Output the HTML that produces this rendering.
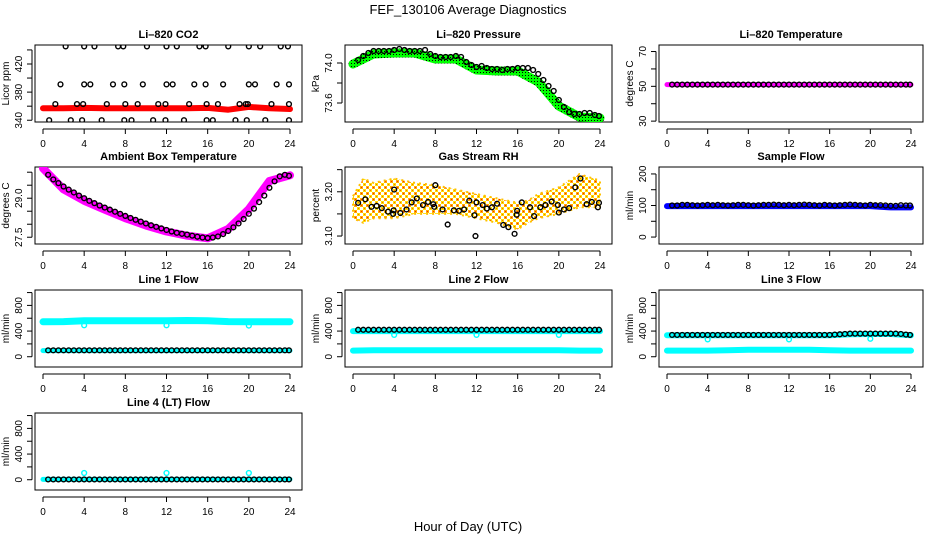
<!DOCTYPE html>
<html><head><meta charset="utf-8"><style>
body{margin:0;background:#fff}
svg{display:block;font-family:"Liberation Sans",sans-serif}
</style></head><body>
<svg id="c" width="936" height="540" viewBox="0 0 936 540">
<defs>
<pattern id="gdots" width="3" height="3" patternUnits="userSpaceOnUse"><rect width="3" height="3" fill="#00ff00"/><rect width="1" height="1" fill="#000"/></pattern>
<pattern id="rhpat" width="6" height="6" patternUnits="userSpaceOnUse"><rect width="6" height="6" fill="#fff"/><rect x="0" y="0" width="3" height="3" fill="#ffb000"/><rect x="1" y="1" width="1" height="1" fill="#ff2000"/><rect x="3" y="3" width="3" height="3" fill="#ffe000"/><rect x="4" y="4" width="1" height="1" fill="#ff6000"/></pattern>
</defs>
<text x="468" y="14" font-size="13" text-anchor="middle">FEF_130106  Average Diagnostics</text>
<text x="468" y="531" font-size="13" text-anchor="middle">Hour of Day (UTC)</text>
</svg>
<script>
// shared hours for circle series
const hrs=[0.5,1,1.5,2,2.5,3,3.5,4,4.5,5,5.5,6,6.5,7,7.5,8,8.5,9,9.5,10,10.5,11,11.5,12,12.5,13,13.5,14,14.5,15,15.5,16,16.5,17,17.5,18,18.5,19,19.5,20,20.5,21,21.5,22,22.5,23,23.5,23.9];
const xTicks=[0,4,8,12,16,20,24];
const bandHrs=[0,2,4,6,8,10,12,14,16,18,20,22,24];
// CO2
const co2X=[2.2,4,5,7.3,7.8,10.1,12,13,15.2,15.8,18,20,21.1,23.1,23.8, 1.7,4,4.6,6.8,7.9,9.7,12,12.6,14.7,15.8,17.5,20,20.6,22.7,23.9, 1.2,3.3,3.9,6.2,8,9.2,11.2,11.9,14.2,15.9,17,19.1,19.7,19.9,22.2,23.9, 0.6,2.7,3.8,5.7,7.9,8.6,10.7,11.9,13.7,15.9,16.5,18.7,19.8,21.6,23.9];
const co2Y=[445,445,445,445,445,445,445,445,445,445,445,445,445,445,445, 391,391,391,391,391,391,391,391,391,391,391,391,391,391,391, 363,363,363,363,363,363,363,363,363,363,363,363,363,363,363,363, 340,340,340,340,340,340,340,340,340,340,340,340,340,340,340];
const co2Band=[357,357,357.5,357,357,357,357,357,357.5,355,359,357,356];
// Pressure
const presBand=[73.99,74.09,74.10,74.10,74.04,74.04,73.93,73.92,73.92,73.81,73.57,73.46,73.45];
const presC=[74.03,74.07,74.10,74.12,74.12,74.12,74.12,74.13,74.14,74.13,74.12,74.12,74.12,74.13,74.09,74.07,74.06,74.06,74.06,74.07,74.06,74.01,73.98,73.96,73.97,73.95,73.94,73.94,73.93,73.94,73.94,73.95,73.95,73.95,73.93,73.89,73.83,73.77,73.72,73.63,73.56,73.51,73.49,73.49,73.50,73.50,73.48,73.47];
// Li-820 temp
const ltBand=[51,51,51,51,51,51,51,51,51,51,51,51,51];
const ltC=[51,51,51,51,51,51,51,51,51,51,51,51,51,51,51,51,51,51,51,51,51,51,51,51,51,51,51,51,51,51,51,51,51,51,51,51,51,51,51,51,51,51,51,51,51,51,51,51];
// Ambient box temperature
const ambBand=[30.15,29.34,28.9,28.56,28.23,27.95,27.72,27.56,27.46,27.82,28.58,29.66,29.88];
const ambC=[29.9,29.72,29.58,29.45,29.33,29.22,29.1,29.0,28.9,28.81,28.72,28.64,28.56,28.48,28.4,28.32,28.24,28.17,28.1,28.03,27.96,27.9,27.84,27.78,27.72,27.67,27.63,27.6,27.56,27.52,27.49,27.47,27.49,27.53,27.62,27.74,27.88,28.03,28.2,28.4,28.6,28.85,29.1,29.4,29.65,29.84,29.9,29.86];
// Gas stream RH envelope + circles
const rhHrs=[0,1,2,4,6,8,10,12,14,16,17,18,20,22,24];
const rhUp=[3.19,3.23,3.22,3.23,3.22,3.215,3.205,3.195,3.185,3.175,3.18,3.195,3.21,3.24,3.225];
const rhLo=[3.14,3.13,3.14,3.14,3.15,3.15,3.15,3.14,3.13,3.115,3.13,3.14,3.15,3.165,3.165];
const rhX=[0.5,1.2,1.8,2.3,2.8,3.4,3.9,3.95,4,4.6,5.2,5.7,6.2,6.8,7.3,7.8,7.9,8,8.7,9.2,9.8,10.3,10.8,11.3,11.8,11.9,12,12.6,13,13.5,14,14.6,15.1,15.7,15.9,15.95,16.4,17.2,17.6,18.2,18.7,19.3,19.9,20,20.5,21,21.6,22.1,22.7,23.2,23.8,23.9];
const rhY=[3.175,3.183,3.166,3.168,3.163,3.155,3.15,3.158,3.205,3.152,3.16,3.176,3.185,3.17,3.177,3.172,3.166,3.215,3.16,3.126,3.158,3.157,3.16,3.18,3.147,3.10,3.176,3.17,3.162,3.165,3.173,3.125,3.12,3.105,3.148,3.157,3.176,3.165,3.145,3.165,3.17,3.178,3.17,3.153,3.16,3.163,3.21,3.23,3.172,3.177,3.165,3.175];
// Sample flow
const sfBand=[98,98,98,98,98,98,98,98,98,98,98,94,94];
const sfC=[100,100,102,102,101,100,101,102,101,102,101,100,101,102,102,101,100,101,102,102,103,102,101,102,101,102,103,102,101,100,102,101,100,101,102,103,102,101,100,102,101,101,100,99,99,101,100,100];
// Line flows
const l1Hi=[545,548,560,560,560,560,562,565,560,548,545,545,545];
const l1Lo=[95,95,95,95,95,95,95,95,95,95,95,95,95];
const l1C=[100,100,100,100,100,100,100,100,100,100,100,100,100,100,100,100,100,100,100,100,100,100,100,100,100,100,100,100,100,100,100,100,100,100,100,100,100,100,100,100,100,100,100,100,100,100,100,100];
const l1DipX=[4,12,20]; const l1DipY=[490,490,485];
const l2Hi=[400,400,400,400,400,400,400,400,400,400,400,400,400];
const l2Lo=[95,100,100,100,100,100,100,100,100,100,100,95,95];
const l2C=[420,420,420,420,420,420,420,420,420,420,420,420,420,420,420,420,420,420,420,420,420,420,420,420,420,420,420,420,420,420,420,420,420,420,420,420,420,420,420,420,420,420,420,420,420,420,420,420];
const l2DipX=[4,12,20]; const l2DipY=[340,340,340];
const l3Hi=[335,335,335,335,335,335,335,335,335,350,355,355,335];
const l3Lo=[95,95,95,100,110,110,110,110,100,95,95,95,95];
const l3C=[340,340,340,340,340,340,340,340,340,340,340,340,340,340,340,340,340,340,340,340,340,340,340,340,340,340,340,340,340,340,340,340,345,350,355,360,360,360,360,360,360,360,360,360,360,355,345,340];
const l3DipX=[4,12,20]; const l3DipY=[270,270,280];
const l4Lo=[5,5,5,5,5,5,5,5,5,5,5,5,5];
const l4C=[5,5,5,5,5,5,5,5,5,5,5,5,5,5,5,5,5,5,5,5,5,5,5,5,5,5,5,5,5,5,5,5,5,5,5,5,5,5,5,5,5,5,5,5,5,5,5,5];
const l4DipX=[4,12,20]; const l4DipY=[105,105,105];

const NS="http://www.w3.org/2000/svg";
const svg=document.getElementById('c');
function mk(tag,attrs,parent){const e=document.createElementNS(NS,tag);for(const k in attrs)e.setAttribute(k,attrs[k]);(parent||svg).appendChild(e);return e;}

function panel(o){
  const g=mk('g',{});
  
  
  const L=o.L,T=o.T,W=o.W||267,H=77;
  const xs=v=>L+8+v*(W-20)/24;
  const ys=v=>T+(o.ymax-v)/(o.ymax-o.ymin)*H;
  o.xs=xs;o.ys=ys;
  const box=mk('rect',{x:L,y:T,width:W,height:H,fill:'none',stroke:'#000','stroke-width':1},g);
  
  
  const t=mk('text',{x:L+W/2,y:T-7,'font-size':11,'font-weight':'bold','text-anchor':'middle'},g);
  t.textContent=o.title;
  
  
  const ax=mk('g',{},g);
  
  
  const xb=T+H+7;
  mk('line',{x1:xs(0),x2:xs(24),y1:xb,y2:xb,stroke:'#000'},ax);
  xTicks.forEach(v=>{
    mk('line',{x1:xs(v),x2:xs(v),y1:xb,y2:xb+5,stroke:'#000'},ax);
    const l=mk('text',{x:xs(v),y:xb+18,'font-size':10,'text-anchor':'middle'},ax);
    l.textContent=v;
    
    
  });
  const ay=mk('g',{},g);
  
  
  const yl=L-3;
  mk('line',{x1:yl,x2:yl,y1:ys(o.yt[0]),y2:ys(o.yt[o.yt.length-1]),stroke:'#000'},ay);
  o.yt.forEach(v=>{
    mk('line',{x1:yl,x2:yl-5,y1:ys(v),y2:ys(v),stroke:'#000'},ay);
  });
  o.yl.forEach(s=>{
    const v=parseFloat(s);
    const l=mk('text',{x:0,y:0,'font-size':10,'text-anchor':'middle',transform:`translate(${yl-10},${ys(v)}) rotate(-90)`},ay);
    l.textContent=s;
    
    
  });
  const yt=mk('text',{x:0,y:0,'font-size':10,'text-anchor':'middle',transform:`translate(${L-26},${T+H/2}) rotate(-90)`},ay);
  yt.textContent=o.ylab;
  
  
  const clip='cp'+o.name;
  const cp=mk('clipPath',{id:clip},g);mk('rect',{x:L,y:T,width:W,height:H},cp);
  o.plot=mk('g',{'clip-path':`url(#${clip})`},g);
  return o;
}
function band(o,xsArr,vals,color,w,name){
  const pts=xsArr.map((x,i)=>o.xs(x).toFixed(1)+','+o.ys(vals[i]).toFixed(1)).join(' ');
  const p=mk('polyline',{points:pts,fill:'none',stroke:color,'stroke-width':w,'stroke-linejoin':'round','stroke-linecap':'round'},o.plot);
  
  
}
function circles(o,xsArr,vals,color,name){
  const g=mk('g',{},o.plot);
  
  
  xsArr.forEach((x,i)=>{
    mk('circle',{cx:o.xs(x),cy:o.ys(vals[i]),r:2.4,fill:'none',stroke:color,'stroke-width':1.4},g);
  });
}
function area(o,xsArr,up,lo,fill,name){
  const a=xsArr.map((x,i)=>o.xs(x).toFixed(1)+','+o.ys(up[i]).toFixed(1));
  const b=xsArr.map((x,i)=>o.xs(x).toFixed(1)+','+o.ys(lo[i]).toFixed(1)).reverse();
  const p=mk('polygon',{points:a.concat(b).join(' '),fill:fill,stroke:'#ffc000','stroke-width':2,'stroke-dasharray':'2 4'},o.plot);
  
  
}
const C1=35,C2=345,C3=659,R1=45,R2=167,R3=290,R4=413;
const fl=['0','400','800'],flt=[0,200,400,600,800,1000];

let p=panel({name:'co2-panel',L:C1,T:R1,title:'Li\u2013820 CO2',ylab:'Licor ppm',ymin:337.5,ymax:447,yt:[340,360,380,400,420,440],yl:['340','380','420']});
band(p,bandHrs,co2Band,'#ff0000',6,'co2-band');
circles(p,co2X,co2Y,'#000','co2-averages');

p=panel({name:'pressure-panel',L:C2,T:R1,title:'Li\u2013820 Pressure',ylab:'kPa',ymin:73.41,ymax:74.18,yt:[73.6,73.8,74.0],yl:['73.6','74.0']});
band(p,bandHrs,presBand,'url(#gdots)',9,'pressure-band');
circles(p,hrs,presC,'#000','pressure-averages');

p=panel({name:'li820-temp-panel',L:C3,T:R1,W:264,title:'Li\u2013820 Temperature',ylab:'degrees C',ymin:29.5,ymax:73.75,yt:[30,40,50,60,70],yl:['30','50','70']});
band(p,bandHrs,ltBand,'#ff00ff',5,'li820-temp-band');
circles(p,hrs,ltC,'#000','li820-temp-averages');

p=panel({name:'ambient-temp-panel',L:C1,T:R2,title:'Ambient Box Temperature',ylab:'degrees C',ymin:27.24,ymax:30.2,yt:[27.5,28.0,28.5,29.0,29.5,30.0],yl:['27.5','29.0']});
band(p,bandHrs,ambBand,'#ff00ff',8,'ambient-temp-band');
circles(p,hrs,ambC,'#000','ambient-temp-averages');

p=panel({name:'rh-panel',L:C2,T:R2,title:'Gas Stream RH',ylab:'percent',ymin:3.082,ymax:3.256,yt:[3.10,3.15,3.20,3.25],yl:['3.10','3.20']});
area(p,rhHrs,rhUp,rhLo,'url(#rhpat)','rh-scatter');
circles(p,rhX,rhY,'#000','rh-averages');

p=panel({name:'sample-flow-panel',L:C3,T:R2,W:264,title:'Sample Flow',ylab:'ml/min',ymin:-22,ymax:222,yt:[0,50,100,150,200],yl:['0','100','200']});
band(p,bandHrs,sfBand,'#0000ff',6,'sample-flow-band');
circles(p,hrs,sfC,'#000','sample-flow-averages');

p=panel({name:'line1-flow-panel',L:C1,T:R3,title:'Line 1 Flow',ylab:'ml/min',ymin:-160,ymax:1040,yt:flt,yl:fl});
band(p,bandHrs,l1Hi,'#00ffff',7,'line1-high-band');
band(p,bandHrs,l1Lo,'#00ffff',5,'line1-low-band');
circles(p,l1DipX,l1DipY,'#00ffff','line1-dips');
circles(p,hrs,l1C,'#000','line1-averages');

p=panel({name:'line2-flow-panel',L:C2,T:R3,title:'Line 2 Flow',ylab:'ml/min',ymin:-160,ymax:1040,yt:flt,yl:fl});
band(p,bandHrs,l2Hi,'#00ffff',6,'line2-high-band');
band(p,bandHrs,l2Lo,'#00ffff',6,'line2-low-band');
circles(p,l2DipX,l2DipY,'#00ffff','line2-dips');
circles(p,hrs,l2C,'#000','line2-averages');

p=panel({name:'line3-flow-panel',L:C3,T:R3,W:264,title:'Line 3 Flow',ylab:'ml/min',ymin:-160,ymax:1040,yt:flt,yl:fl});
band(p,bandHrs,l3Hi,'#00ffff',6,'line3-high-band');
band(p,bandHrs,l3Lo,'#00ffff',6,'line3-low-band');
circles(p,l3DipX,l3DipY,'#00ffff','line3-dips');
circles(p,hrs,l3C,'#000','line3-averages');

p=panel({name:'line4-flow-panel',L:C1,T:R4,title:'Line 4 (LT) Flow',ylab:'ml/min',ymin:-160,ymax:1040,yt:flt,yl:fl});
band(p,bandHrs,l4Lo,'#00ffff',5,'line4-band');
circles(p,l4DipX,l4DipY,'#00ffff','line4-dips');
circles(p,hrs,l4C,'#000','line4-averages');
</script>
</body></html>
